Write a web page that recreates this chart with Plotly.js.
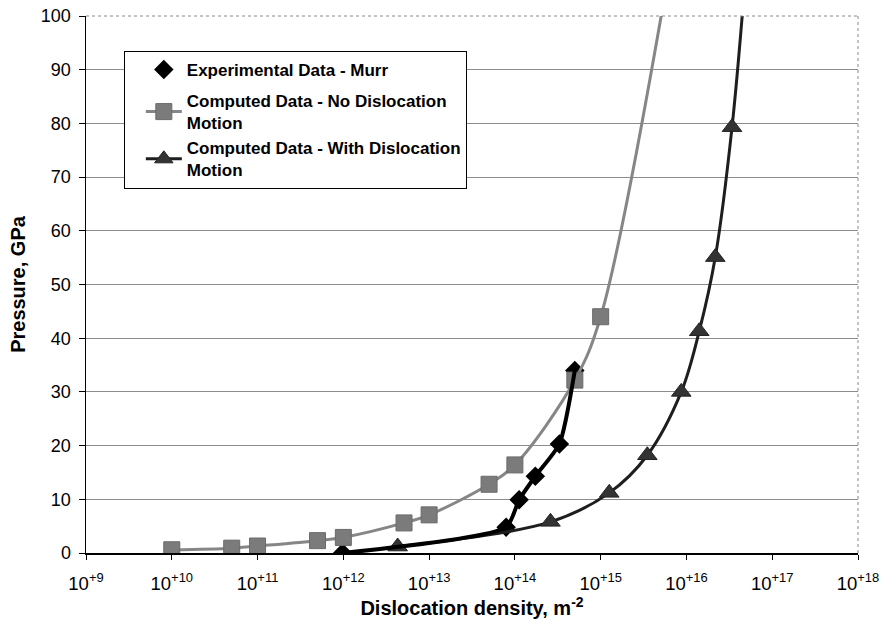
<!DOCTYPE html>
<html>
<head>
<meta charset="utf-8">
<script src="https://cdn.plot.ly/plotly-3.0.1.min.js"></script>
<style>html,body{margin:0;padding:0;background:#fff;}#chart{width:889px;height:631px;}</style>
</head>
<body>
<div id="chart"></div>
<script>
// Experimental Data - Murr
const expDensity = [9.8e11, 7.9e13, 1.12e14, 1.73e14, 3.3e14, 5.0e14];
const expPressure = [0, 4.8, 9.9, 14.3, 20.3, 34.0];

// Computed Data - No Dislocation Motion
const noDisDensity = [1.0e10, 5.0e10, 1.0e11, 5.0e11, 1.0e12, 5.1e12, 1.0e13, 5.0e13, 1.0e14, 5.0e14, 1.0e15, 6.2e15];
const noDisPressure = [0.6, 0.9, 1.3, 2.3, 2.9, 5.6, 7.1, 12.8, 16.4, 32.2, 44.0, 108];

// Computed Data - With Dislocation Motion
const withDisDensity = [4.3e12, 2.6e14, 1.26e15, 3.5e15, 8.7e15, 1.41e16, 2.17e16, 3.4e16, 4.9e16];
const withDisPressure = [1.2, 5.8, 11.2, 18.2, 30.0, 41.3, 55.1, 79.3, 108];

// Axis ticks
const xTickVals = [1e9, 1e10, 1e11, 1e12, 1e13, 1e14, 1e15, 1e16, 1e17, 1e18];
const xTickText = ['10<sup>+9</sup>', '10<sup>+10</sup>', '10<sup>+11</sup>', '10<sup>+12</sup>', '10<sup>+13</sup>', '10<sup>+14</sup>', '10<sup>+15</sup>', '10<sup>+16</sup>', '10<sup>+17</sup>', '10<sup>+18</sup>'];
const yTickVals = [0, 10, 20, 30, 40, 50, 60, 70, 80, 90, 100];

const FONT = 'Liberation Sans, Arial, sans-serif';

const traces = [
  {
    x: expDensity, y: expPressure, mode: 'markers', type: 'scatter',
    name: 'Experimental Data - Murr', legendgroup: 'exp',
    marker: {symbol: 'diamond', size: 15, color: '#000'}
  },
  {
    x: noDisDensity, y: noDisPressure, mode: 'lines+markers', type: 'scatter',
    name: 'Computed Data - No Dislocation<br>Motion', legendgroup: 'comp',
    line: {color: '#868686', width: 3, shape: 'spline', smoothing: 1},
    marker: {symbol: 'square', size: 16, color: '#7b7b7b', line: {color: '#6a6a6a', width: 1}}
  },
  {
    x: withDisDensity, y: withDisPressure, mode: 'lines+markers', type: 'scatter',
    name: 'Computed Data - With Dislocation<br>Motion', legendgroup: 'comp',
    line: {color: '#1e1e1e', width: 3, shape: 'spline', smoothing: 1},
    marker: {symbol: 'triangle-up', size: 17, color: '#333', line: {color: '#222', width: 1}}
  },
  {
    x: expDensity, y: expPressure, mode: 'lines', type: 'scatter',
    line: {color: '#000', width: 4, shape: 'spline', smoothing: 0.6},
    showlegend: false, hoverinfo: 'skip'
  }
];

const layout = {
  width: 889, height: 631,
  margin: {l: 86, r: 31, t: 16, b: 78},
  paper_bgcolor: '#fff', plot_bgcolor: '#fff',
  font: {family: FONT, color: '#000', size: 16},
  showlegend: true,
  legend: {
    x: 0.049, y: 0.935, xanchor: 'left', yanchor: 'top',
    bgcolor: '#fff', bordercolor: '#000', borderwidth: 1,
    font: {family: FONT, size: 17, color: '#000', weight: 'bold'},
    traceorder: 'grouped', tracegroupgap: 6,
    itemwidth: 36, indentation: 16
  },
  xaxis: {
    type: 'log', range: [9, 18],
    tickmode: 'array', tickvals: xTickVals, ticktext: xTickText,
    ticks: 'outside', ticklen: 5, tickcolor: '#000',
    ticklabelstandoff: 8,
    showline: true, linecolor: '#000', linewidth: 1.5,
    showgrid: false, zeroline: false,
    tickfont: {family: FONT, size: 18.5, color: '#000'},
    title: {text: '<b>Dislocation density, m<sup>-2</sup></b>', font: {family: FONT, size: 20, color: '#000'}, standoff: 6}
  },
  yaxis: {
    range: [0, 100],
    tickmode: 'array', tickvals: yTickVals,
    ticks: 'outside', ticklen: 6, tickcolor: '#000',
    ticklabelstandoff: 4,
    showline: true, linecolor: '#000', linewidth: 1.5,
    showgrid: true, gridcolor: '#8c8c8c', gridwidth: 1,
    zeroline: false,
    tickfont: {family: FONT, size: 18, color: '#000'},
    title: {text: '<b>Pressure, GPa</b>', font: {family: FONT, size: 20, color: '#000'}, standoff: 10}
  },
  shapes: [
    {type: 'line', xref: 'paper', yref: 'paper', x0: 0, x1: 1, y0: 1, y1: 1, line: {color: '#888', width: 1, dash: 'dot'}},
    {type: 'line', xref: 'paper', yref: 'paper', x0: 1, x1: 1, y0: 0, y1: 1, line: {color: '#888', width: 1, dash: 'dot'}}
  ]
};

Plotly.newPlot('chart', traces, layout, {displayModeBar: false, staticPlot: true});
</script>
</body>
</html>
